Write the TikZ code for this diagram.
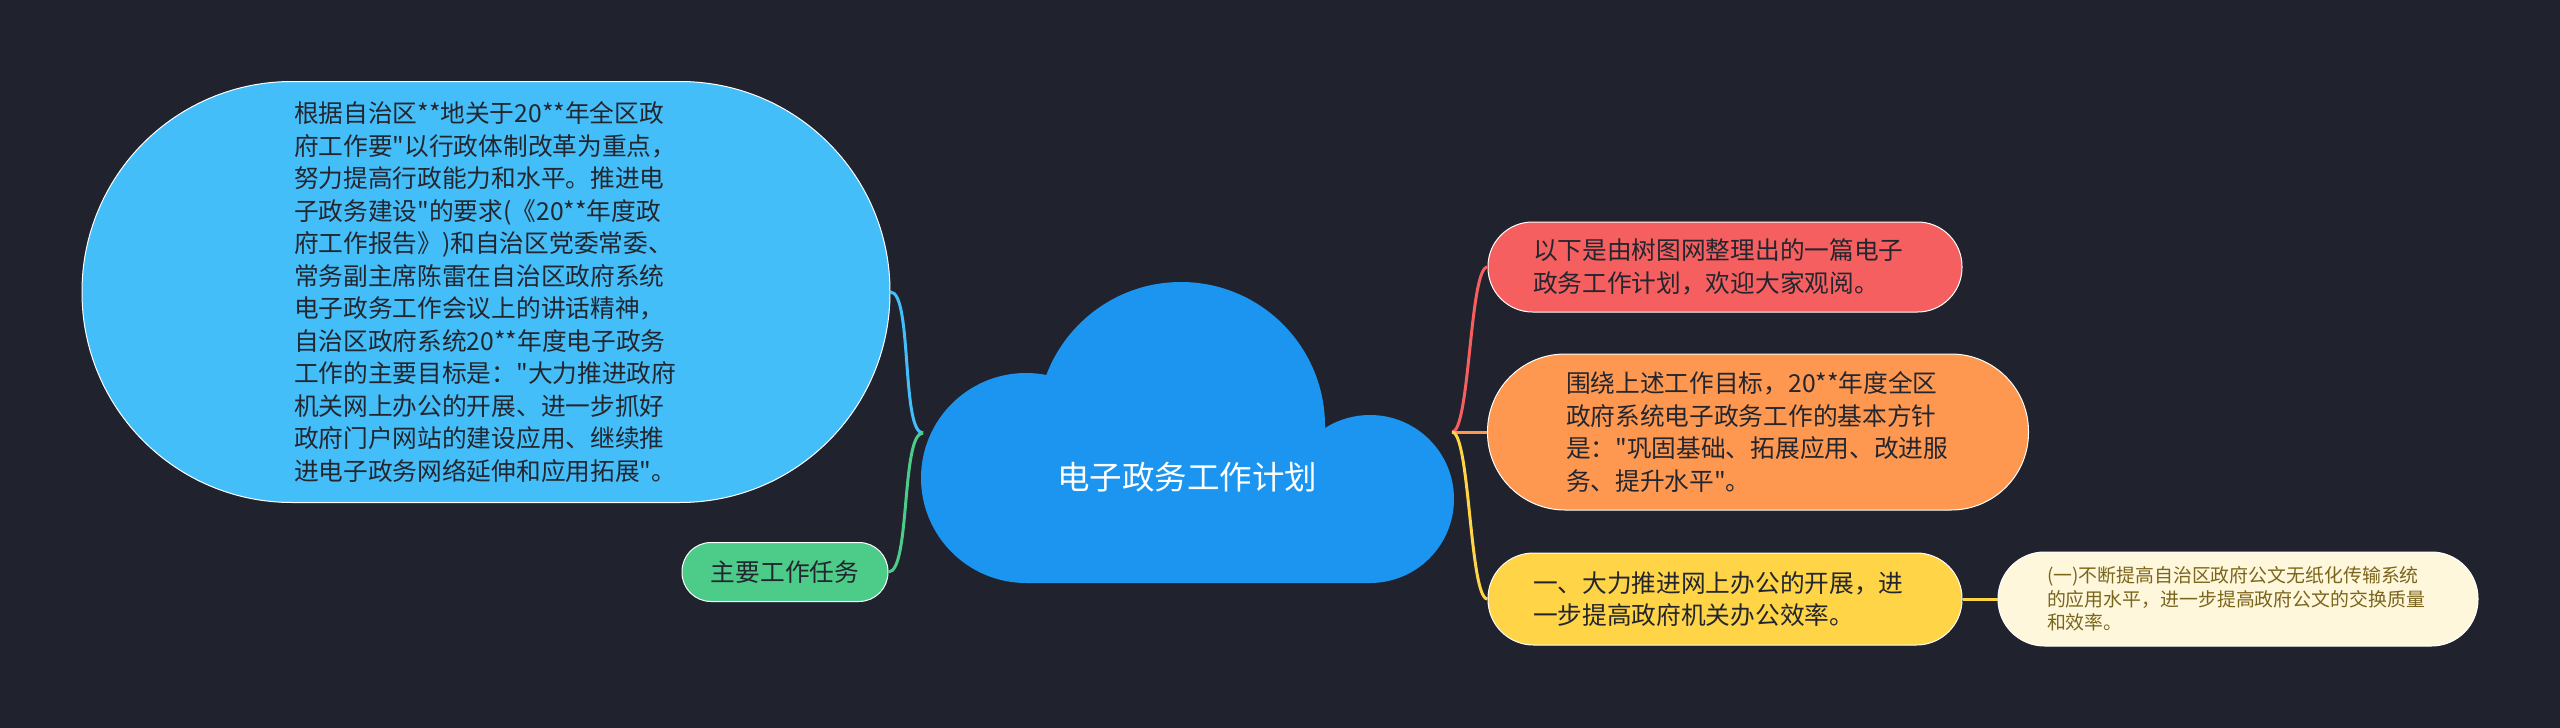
\documentclass[tikz,border=0pt]{standalone}
\usepackage{fontspec}
\setmainfont{Noto Sans CJK SC}[Ligatures=TeXOff]
\usepackage{tikz}
\usetikzlibrary{positioning,calc}
\usepackage{xcolor}
\definecolor{bgdark}{HTML}{20232E}
\definecolor{cloudblue}{HTML}{1B95EF}
\definecolor{goalblue}{HTML}{44BEF9}
\definecolor{introred}{HTML}{F55F5F}
\definecolor{aimorange}{HTML}{FE9850}
\definecolor{taskyellow}{HTML}{FFD447}
\definecolor{subcream}{HTML}{FFF7DB}
\definecolor{taskgreen}{HTML}{4DCB88}
\definecolor{textdark}{HTML}{23262F}
\definecolor{textolive}{HTML}{7A651C}
\newcommand{\leaffont}{\fontsize{24.7pt}{32.5pt}\selectfont}
\newcommand{\subfont}{\fontsize{18.9pt}{23.5pt}\selectfont}
\newcommand{\rootfont}{\fontsize{32.5pt}{40pt}\selectfont}

\begin{document}
\begin{tikzpicture}[
	x=1pt, y=-1pt,
	leaf/.style={draw=white, line width=1pt, inner sep=0pt, align=left,
		text=textdark, font=\leaffont},
	conn/.style={line width=3pt}
	]
		
		\fill[bgdark] (0,0) rectangle (2560,728);
		
		\fill[cloudblue]
		(1026,478) circle[radius=105pt]
		(1181,426) circle[radius=144pt]
		(1370,499) circle[radius=84pt]
		(1026,478) rectangle (1370,583);
		
		\node[
		text=white,
		font=\rootfont
		] (C) at (1187,477)
		{电子政务工作计划};
		
		\node[
		leaf,
		fill=goalblue,
		minimum width=808pt,
		minimum height=421pt,
		rounded corners=210pt,
		text width=384pt
		] (G) at (486,292)
		{根据自治区**地关于20**年全区政\\
			府工作要"以行政体制改革为重点，\\
			努力提高行政能力和水平。推进电\\
			子政务建设"的要求(《20**年度政\\
			府工作报告》)和自治区党委常委、\\
			常务副主席陈雷在自治区政府系统\\
			电子政务工作会议上的讲话精神，\\
			自治区政府系统20**年度电子政务\\
			工作的主要目标是："大力推进政府\\
			机关网上办公的开展、进一步抓好\\
			政府门户网站的建设应用、继续推\\
			进电子政务网络延伸和应用拓展"。};
		
		\node[
		leaf,
		fill=taskgreen,
		minimum width=206pt,
		minimum height=59pt,
		rounded corners=29pt
		] (T) at (785,572)
		{主要工作任务};
		
		\node[
		leaf,
		fill=introred,
		minimum width=474pt,
		minimum height=90pt,
		rounded corners=44.5pt,
		text width=384pt
		] (R1) at (1725,267)
		{以下是由树图网整理出的一篇电子\\
			政务工作计划，欢迎大家观阅。};
		
		\node[
		leaf,
		fill=aimorange,
		minimum width=541pt,
		minimum height=156pt,
		rounded corners=77.5pt,
		text width=384pt
		] (R2) at (1758,432)
		{围绕上述工作目标，20**年度全区\\
			政府系统电子政务工作的基本方针\\
			是："巩固基础、拓展应用、改进服\\
			务、提升水平"。};
		
		\node[
		leaf,
		fill=taskyellow,
		minimum width=474pt,
		minimum height=92pt,
		rounded corners=45.5pt,
		text width=384pt
		] (R3) at (1725,599)
		{一、大力推进网上办公的开展，进\\
			一步提高政府机关办公效率。};
		
		\node[
		leaf,
		fill=subcream,
		text=textolive,
		font=\subfont,
		minimum width=480pt,
		minimum height=94pt,
		rounded corners=46.5pt,
		text width=382pt
		] (S) at (2238,599)
		{(一)不断提高自治区政府公文无纸化传输系统\\
			的应用水平，进一步提高政府公文的交换质量\\
			和效率。};
		
		\coordinate (JL) at (923,433);
		\coordinate (JR) at (1452,432);
		
		\draw[conn, goalblue] (G.east) .. controls +(22,0) and +(-22,0) .. (JL);
		\draw[conn, taskgreen] (T.east) .. controls +(22,0) and +(-22,0) .. (JL);
		\draw[conn, introred] (JR) .. controls +(18,0) and +(-18,0) .. (R1.west);
		\draw[conn, aimorange] (JR) -- (R2.west);
		\draw[conn, taskyellow] (JR) .. controls +(18,0) and +(-18,0) .. (R3.west);
		\draw[conn, taskyellow] (R3.east) -- (S.west);
		
	\end{tikzpicture}
\end{document}
